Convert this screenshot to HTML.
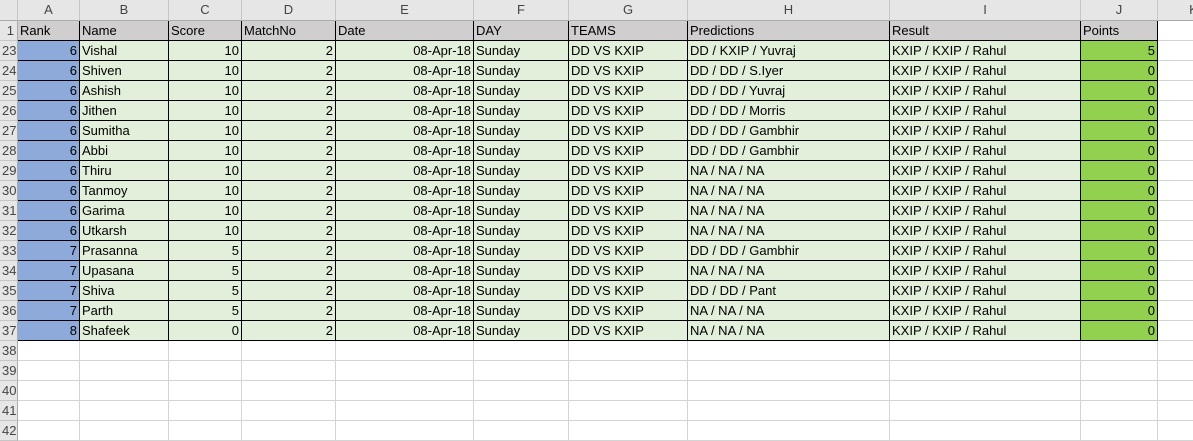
<!DOCTYPE html>
<html><head><meta charset="utf-8"><style>
body{margin:0;width:1193px;height:433px;overflow:hidden;background:#fff;font-family:"Liberation Sans",sans-serif;}
#sheet{position:relative;width:1193px;height:433px;}
.c{position:absolute;box-sizing:border-box;font-size:13px;line-height:19px;padding:0 2px;white-space:nowrap;overflow:hidden;color:#000;}
.hdr{background:#e6e6e6;color:#444;text-align:center;border-right:1px solid #c6c6c6;border-bottom:1px solid #aaa;}
.rh{background:#e6e6e6;color:#444;text-align:right;padding-right:3px;border-bottom:1px solid #c6c6c6;border-right:1px solid #aaa;}
.g{border-right:1px solid #d4d4d4;border-bottom:1px solid #d4d4d4;}
.d{border-right:1px solid #000;border-bottom:1px solid #000;}
.r{text-align:right;}
</style></head><body>
<div id="sheet"></div>
<script>
const colLetters=["A","B","C","D","E","F","G","H","I","J","K"];
const headers=["Rank","Name","Score","MatchNo","Date","DAY","TEAMS","Predictions","Result","Points"];
const rowNums=[23,24,25,26,27,28,29,30,31,32,33,34,35,36,37];
const ranks=[6,6,6,6,6,6,6,6,6,6,7,7,7,7,8];
const names=["Vishal","Shiven","Ashish","Jithen","Sumitha","Abbi","Thiru","Tanmoy","Garima","Utkarsh","Prasanna","Upasana","Shiva","Parth","Shafeek"];
const scores=[10,10,10,10,10,10,10,10,10,10,5,5,5,5,0];
const preds=["DD / KXIP / Yuvraj","DD / DD / S.Iyer","DD / DD / Yuvraj","DD / DD / Morris","DD / DD / Gambhir","DD / DD / Gambhir","NA / NA / NA","NA / NA / NA","NA / NA / NA","NA / NA / NA","DD / DD / Gambhir","NA / NA / NA","DD / DD / Pant","NA / NA / NA","NA / NA / NA"];
const points=[5,0,0,0,0,0,0,0,0,0,0,0,0,0,0];
const colX=[18,80,169,242,336,474,569,688,890,1081,1158,1230];
const sheet=document.getElementById('sheet');
function cell(x,y,w,h,cls,txt,bg,name){
  const e=document.createElement('div');
  e.className='c '+cls;
  e.style.left=x+'px';e.style.top=y+'px';e.style.width=w+'px';e.style.height=h+'px';
  if(bg)e.style.background=bg;
  e.textContent=txt;
  
  
  sheet.appendChild(e);return e;
}
// corner
const corner=cell(0,0,18,21,'hdr','',null,'select-all-corner');
for(let i=0;i<11;i++){cell(colX[i],0,colX[i+1]-colX[i],21,'hdr',colLetters[i],null,'column-header-'+colLetters[i].toLowerCase());}
// row 1 headers
cell(0,21,18,20,'rh','1',null,'row-header-1');
for(let i=0;i<10;i++){cell(colX[i],21,colX[i+1]-colX[i],20,'d',headers[i],'#d0cece','header-'+headers[i].toLowerCase());}
cell(colX[10],21,colX[11]-colX[10],20,'g','',null,'empty-cell');
let y=41;
for(let r=0;r<rowNums.length;r++){
  cell(0,y,18,20,'rh',String(rowNums[r]),null,'row-header-'+rowNums[r]);
  const vals=[ranks[r],names[r],scores[r],2,'08-Apr-18','Sunday','DD VS KXIP',preds[r],'KXIP / KXIP / Rahul',points[r]];
  const right=[1,0,1,1,1,0,0,0,0,1];
  for(let i=0;i<10;i++){
    const bg=i===0?'#8eaadb':(i===9?'#92d050':'#e2efda');
    cell(colX[i],y,colX[i+1]-colX[i],20,'d'+(right[i]?' r':''),String(vals[i]),bg,'cell-'+headers[i].toLowerCase()+'-'+rowNums[r]);
  }
  cell(colX[10],y,colX[11]-colX[10],20,'g','',null,'empty-cell');
  y+=20;
}
for(let n=38;n<=42;n++){
  cell(0,y,18,20,'rh',String(n),null,'row-header-'+n);
  for(let i=0;i<11;i++){cell(colX[i],y,colX[i+1]-colX[i],20,'g','',null,'empty-cell');}
  y+=20;
}
</script>
</body></html>
